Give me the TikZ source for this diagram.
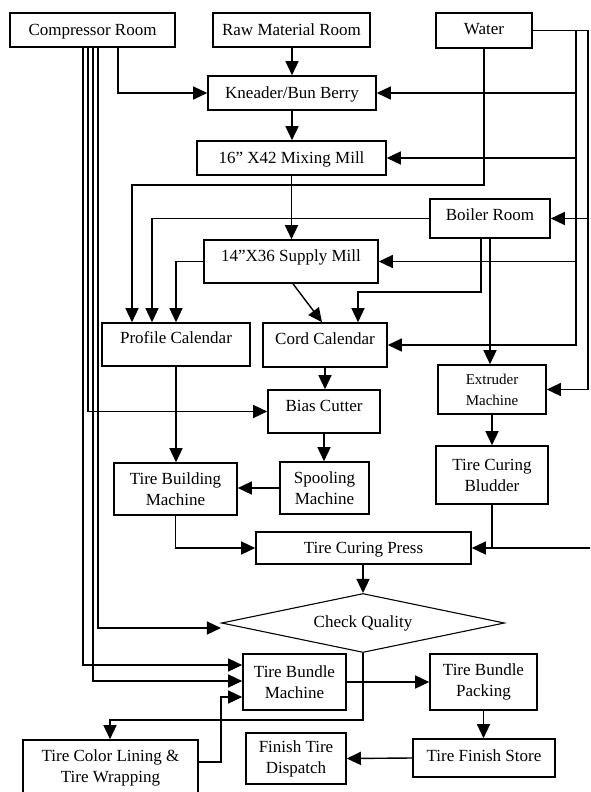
\documentclass[tikz,border=0pt]{standalone}
\usepackage{fontspec}
\setmainfont{Liberation Serif}
\usetikzlibrary{arrows.meta,shapes.geometric}
\begin{document}
\begin{tikzpicture}[x=1pt,y=-1pt,
  font=\fontsize{17}{21}\selectfont,
  box/.style={draw, line width=1.6pt, inner sep=0pt, align=center},
  sz/.style 2 args={minimum width=#1pt, minimum height=#2pt},
  oneline/.style={text height=12pt, text depth=#1},
  oneline/.default=0pt,
  arr/.style={line width=1.4pt, -{Triangle[length=14pt,width=13pt]}},
  ln/.style={line width=1.4pt}]
\useasboundingbox (0,0) rectangle (590,792);
\clip (0,0) rectangle (590,792);
\fill[white] (0,0) rectangle (590,792);

% nodes
\node[box, sz={165}{34}, oneline] (comp) at (92.5,30) {Compressor Room};
\node[box, sz={157}{34}, oneline] (raw) at (291.5,30) {Raw Material Room};
\node[box, sz={96}{35}, oneline=3pt] (water) at (484,30.5) {Water};
\node[box, sz={168}{34}, oneline=2pt] (knead) at (292,93) {Kneader/Bun Berry};
\node[box, sz={189}{34}, oneline=2pt] (mix) at (291.5,158) {16” X42 Mixing Mill};
\node[box, sz={120}{39}, oneline=9pt] (boiler) at (490,218.5) {Boiler Room};
\node[box, sz={174}{43}, oneline=13pt] (supply) at (291,261.5) {14”X36 Supply Mill};
\node[box, sz={148}{43}, oneline=15pt] (profile) at (176,344.5) {Profile Calendar};
\node[box, sz={124}{44}, oneline=14pt] (cord) at (325,345) {Cord Calendar};
\node[box, sz={108}{49}, font=\fontsize{15}{21}\selectfont] (extr) at (492,389.5) {Extruder\\Machine};
\node[box, sz={112}{43}, oneline=13pt] (bias) at (324,411.5) {Bias Cutter};
\node[box, sz={89}{52}] (spool) at (324.5,488) {Spooling\\Machine};
\node[box, sz={123}{52}] (build) at (175.5,489) {Tire Building\\Machine};
\node[box, sz={112}{58}] (blud) at (492,475) {Tire Curing\\Bludder};
\node[box, sz={215}{32}, oneline=2pt] (press) at (363.5,548) {Tire Curing Press};
\node[draw, line width=1.1pt, diamond, aspect=4.8, inner sep=0pt, sz={283}{59}] (quality) at (363,623) {Check Quality};
\node[box, sz={103}{56}] (bundle) at (294.5,682) {Tire Bundle\\Machine};
\node[box, sz={107}{56}] (pack) at (483.5,682) {Tire Bundle\\Packing};
\node[box, sz={142}{38}, oneline=6pt] (store) at (484,758) {Tire Finish Store};
\node[box, sz={100}{51}] (dispatch) at (296,758.5) {Finish Tire\\Dispatch};
\node[box, sz={175}{54}, text depth=2pt] (color) at (110.5,767) {Tire Color Lining \&\\Tire Wrapping};

\coordinate (wr1) at (576,30.5);
\coordinate (wr2) at (588,30.5);
\coordinate (edge) at (596,548);

% main flow
\draw[arr] (raw.south -| knead.north) -- (knead.north);
\draw[arr] (knead.south) -- (knead.south |- mix.north);
\draw[arr] (mix.south) -- (mix.south |- supply.north);
\draw[arr] (supply.south -| 293,0) -- (cord.north -| 322,0);
\draw[arr] (supply.west) -| (profile.north);
\draw[arr] (cord.south) -- (cord.south |- bias.north);
\draw[arr] (profile.south) -- (profile.south |- build.north);
\draw[arr] (bias.south) -- (bias.south |- spool.north);
\draw[arr] (spool.west) -- (spool.west -| build.east);
\draw[arr] (build.south) |- (press.west);
\draw[arr] (extr.south) -- (blud.north);
\draw[arr] (blud.south) |- (press.east);
\draw[ln] (edge) -- (blud.south |- press.east);
\draw[arr] (press.south -| quality.north) -- (quality.north);
\draw[arr] (quality.south) |- (110,720) -- (color.north -| 110,0);
\draw[arr] (color.east |- 0,762) -| (221,697) -- (bundle.west |- 0,697);
\draw[arr] (bundle.east) -- (pack.west);
\draw[arr] (pack.south) -- (pack.south |- store.north);
\draw[arr] (store.west) -- (dispatch.east);

% compressor room lines
\draw[arr] (comp.south -| 118,0) |- (knead.west);
\draw[arr] (comp.south -| 88,0) |- (bias.west);
\draw[arr] (comp.south -| 98,0) |- (quality.west |- 0,628);
\draw[arr] (comp.south -| 83,0) |- (bundle.west |- 0,665);
\draw[arr] (comp.south -| 93,0) |- (bundle.west |- 0,681);

% water lines
\draw[ln] (water.east) -- (wr2);
\draw[arr] (wr1) |- (cord.east);
\draw[arr] (wr1 |- knead.east) -- (knead.east);
\draw[arr] (wr1 |- mix.east) -- (mix.east);
\draw[arr] (wr1 |- supply.east) -- (supply.east);
\draw[arr] (wr2) |- (extr.east);
\draw[arr] (wr2 |- boiler.east) -- (boiler.east);
\draw[arr] (water.south) |- (132,185) -- (profile.north -| 132,0);

% boiler room lines
\draw[arr] (boiler.west) -| (profile.north -| 152,0);
\draw[arr] (boiler.south -| 481,0) |- (358,292) -- (cord.north -| 358,0);
\draw[arr] (boiler.south -| 490,0) -- (extr.north -| 490,0);
\end{tikzpicture}
\end{document}
